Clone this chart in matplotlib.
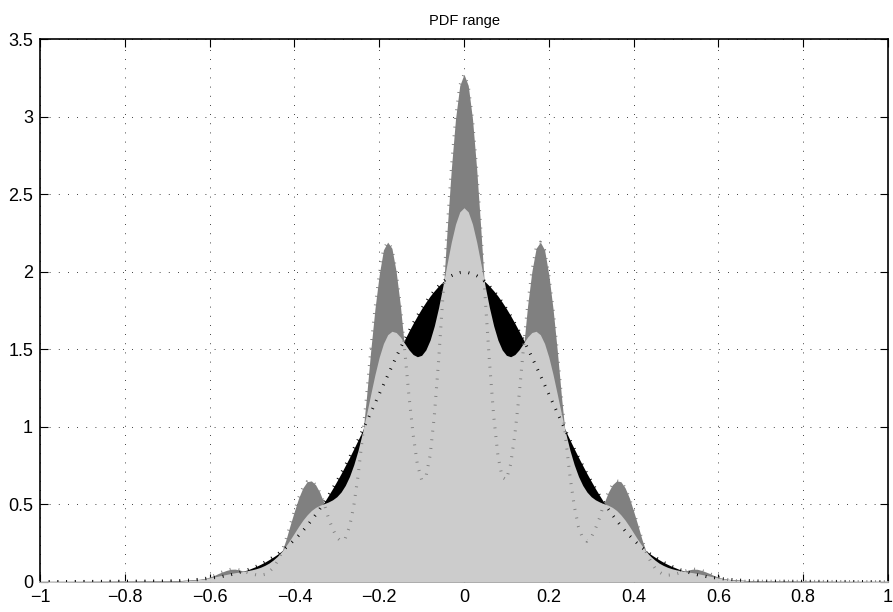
import numpy as np
import matplotlib
matplotlib.use("Agg")
import matplotlib.pyplot as plt

# sample positions: x=-1, then -0.70..0.70 step 0.01, then x=1
x = [-1.0] + [round(-0.70 + 0.01 * i, 2) for i in range(141)] + [1.0]

# smooth reference PDF (black fill, black dotted)
pdf_ref = [0.0,
 0.004, 0.005, 0.006, 0.007, 0.009, 0.010, 0.012, 0.014, 0.016, 0.019,
 0.022, 0.026, 0.030, 0.034, 0.040, 0.045, 0.052, 0.060, 0.068, 0.077,
 0.088, 0.099, 0.112, 0.126, 0.142, 0.159, 0.177, 0.198, 0.220, 0.244,
 0.270, 0.298, 0.328, 0.360, 0.395, 0.431, 0.470, 0.511, 0.555, 0.600,
 0.648, 0.697, 0.749, 0.802, 0.857, 0.913, 0.971, 1.030, 1.089, 1.150,
 1.210, 1.270, 1.331, 1.390, 1.449, 1.506, 1.562, 1.615, 1.666, 1.715,
 1.761, 1.803, 1.842, 1.876, 1.907, 1.934, 1.956, 1.973, 1.985, 1.993,
 1.995,
 1.993, 1.985, 1.973, 1.956, 1.934, 1.907, 1.876, 1.842, 1.803, 1.761,
 1.715, 1.666, 1.615, 1.562, 1.506, 1.449, 1.390, 1.331, 1.270, 1.210,
 1.150, 1.089, 1.030, 0.971, 0.913, 0.857, 0.802, 0.749, 0.697, 0.648,
 0.600, 0.555, 0.511, 0.470, 0.431, 0.395, 0.360, 0.328, 0.298, 0.270,
 0.244, 0.220, 0.198, 0.177, 0.159, 0.142, 0.126, 0.112, 0.099, 0.088,
 0.077, 0.068, 0.060, 0.052, 0.045, 0.040, 0.034, 0.030, 0.026, 0.022,
 0.019, 0.016, 0.014, 0.012, 0.010, 0.009, 0.007, 0.006, 0.005, 0.004,
 0.0]

# upper PDF (dark grey fill, grey dotted)
pdf_upper = [0.0,
 0.003, 0.003, 0.003, 0.003, 0.003, 0.004, 0.007, 0.010, 0.015, 0.022,
 0.030, 0.039, 0.052, 0.063, 0.073, 0.080, 0.081, 0.076, 0.068, 0.058,
 0.050, 0.044, 0.042, 0.047, 0.063, 0.090, 0.132, 0.190, 0.270, 0.365,
 0.455, 0.540, 0.605, 0.645, 0.650, 0.625, 0.575, 0.505, 0.413, 0.342,
 0.286, 0.261, 0.280, 0.354, 0.488, 0.680, 0.920, 1.190, 1.490, 1.760,
 1.980, 2.140, 2.190, 2.150, 2.000, 1.780, 1.500, 1.203, 0.950, 0.757,
 0.658, 0.674, 0.813, 1.069, 1.421, 1.832, 2.260, 2.658, 2.985, 3.200,
 3.272,
 3.200, 2.985, 2.658, 2.260, 1.832, 1.421, 1.069, 0.813, 0.674, 0.658,
 0.757, 0.950, 1.203, 1.500, 1.780, 2.000, 2.150, 2.190, 2.140, 1.980,
 1.760, 1.490, 1.190, 0.920, 0.680, 0.488, 0.354, 0.280, 0.261, 0.286,
 0.342, 0.413, 0.505, 0.575, 0.625, 0.650, 0.645, 0.605, 0.540, 0.455,
 0.365, 0.270, 0.190, 0.132, 0.090, 0.063, 0.047, 0.042, 0.044, 0.050,
 0.058, 0.068, 0.076, 0.081, 0.080, 0.073, 0.063, 0.052, 0.039, 0.030,
 0.022, 0.015, 0.010, 0.007, 0.004, 0.003, 0.003, 0.003, 0.003, 0.003,
 0.0]

# lower PDF (light grey fill)
pdf_lower = [0.0,
 0.004, 0.005, 0.005, 0.006, 0.007, 0.009, 0.011, 0.013, 0.016, 0.020,
 0.025, 0.030, 0.036, 0.042, 0.047, 0.053, 0.058, 0.062, 0.067, 0.072,
 0.077, 0.084, 0.093, 0.105, 0.120, 0.140, 0.164, 0.195, 0.231, 0.271,
 0.314, 0.357, 0.397, 0.431, 0.459, 0.479, 0.493, 0.503, 0.514, 0.528,
 0.548, 0.578, 0.621, 0.679, 0.754, 0.846, 0.956, 1.079, 1.209, 1.336,
 1.448, 1.536, 1.593, 1.615, 1.607, 1.578, 1.537, 1.496, 1.465, 1.451,
 1.460, 1.495, 1.558, 1.650, 1.767, 1.904, 2.049, 2.189, 2.306, 2.385,
 2.412,
 2.385, 2.306, 2.189, 2.049, 1.904, 1.767, 1.650, 1.558, 1.495, 1.460,
 1.451, 1.465, 1.496, 1.537, 1.578, 1.607, 1.615, 1.593, 1.536, 1.448,
 1.336, 1.209, 1.079, 0.956, 0.846, 0.754, 0.679, 0.621, 0.578, 0.548,
 0.528, 0.514, 0.503, 0.493, 0.479, 0.459, 0.431, 0.397, 0.357, 0.314,
 0.271, 0.231, 0.195, 0.164, 0.140, 0.120, 0.105, 0.093, 0.084, 0.077,
 0.072, 0.067, 0.062, 0.058, 0.053, 0.047, 0.042, 0.036, 0.030, 0.025,
 0.020, 0.016, 0.013, 0.011, 0.009, 0.007, 0.006, 0.005, 0.005, 0.004,
 0.0]

xticks = [-1, -0.8, -0.6, -0.4, -0.2, 0, 0.2, 0.4, 0.6, 0.8, 1]
xticklabels = ["\u22121", "\u22120.8", "\u22120.6", "\u22120.4", "\u22120.2",
               "0", "0.2", "0.4", "0.6", "0.8", "1"]
yticks = [0, 0.5, 1, 1.5, 2, 2.5, 3, 3.5]
yticklabels = ["0", "0.5", "1", "1.5", "2", "2.5", "3", "3.5"]
title = "PDF range"

plt.rcParams['font.family'] = ['Liberation Sans', 'DejaVu Sans']

fig = plt.figure(figsize=(8.93, 6.12), dpi=100)
ax = fig.add_axes([40 / 893, 1 - 581.7 / 612, 848 / 893, 542.7 / 612])

ax.fill_between(x, pdf_upper, 0, color=(0.5, 0.5, 0.5), lw=0, zorder=2)
ax.fill_between(x, pdf_ref, 0, color='black', lw=0, zorder=3)
ax.fill_between(x, pdf_lower, 0, color=(0.8, 0.8, 0.8), lw=0, zorder=4)

dot_style = (0, (0.3, 2.55))
ax.plot(x, pdf_upper, color=(0.5, 0.5, 0.5), lw=2.2,
        linestyle=dot_style, dash_capstyle='butt', zorder=5)
ax.plot(x, pdf_ref, color='black', lw=2.2,
        linestyle=dot_style, dash_capstyle='butt', zorder=6)

ax.set_xlim(-1, 1)
ax.set_ylim(0, 3.5)
ax.set_xticks(xticks)
ax.set_xticklabels(xticklabels)
ax.set_yticks(yticks)
ax.set_yticklabels(yticklabels)

ax.grid(True, color='black', lw=0.6, linestyle=(0, (1, 10)), zorder=1)
ax.set_axisbelow(True)

ax.tick_params(direction='in', length=6, width=0.8, top=True, right=True,
               labelsize=13, pad=5, color='black')
for s in ['top', 'left', 'right']:
    ax.spines[s].set_linewidth(1.2)
    ax.spines[s].set_color('black')
ax.spines['bottom'].set_linewidth(1.2)
ax.spines['bottom'].set_color((0.8, 0.8, 0.8))

ax.set_title(title, fontsize=10.5, pad=10)

fig.savefig("out.png", dpi=100)
